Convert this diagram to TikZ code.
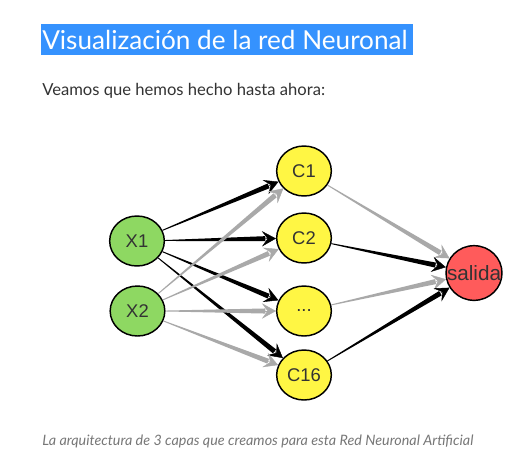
\documentclass[tikz,border=0pt]{standalone}
\usepackage{fontspec}
\setmainfont{Liberation Sans}
\newfontfamily\pagefont{Lato}
\usetikzlibrary{shapes.geometric,arrows.meta,calc}
\definecolor{hlblue}{HTML}{3592FE}
\definecolor{txtdark}{HTML}{333333}
\definecolor{captxt}{HTML}{777777}
\definecolor{ingreen}{HTML}{8ED862}
\definecolor{hidyellow}{HTML}{FFF644}
\definecolor{outred}{HTML}{FF5B5B}
\definecolor{arrgray}{HTML}{A9A9A9}
\tikzset{
  neuron/.style={ellipse, draw=black, line width=1.1pt, minimum width=41pt, minimum height=37.5pt, inner sep=0pt, text=txtdark, font=\fontsize{13.8}{15}\selectfont},
  innode/.style={neuron, fill=ingreen},
  hidnode/.style={neuron, fill=hidyellow},
  outnode/.style={neuron, fill=outred, minimum width=42pt, minimum height=41pt, font=\fontsize{15.5}{17}\selectfont},
}
\newcommand\tarr[3]{%
  \path (#1) -- (#2) coordinate[pos=0] (ts) coordinate[pos=1] (te);
  \coordinate (tb) at ($(te)!8pt!(ts)$);
  \fill[#3] ($(ts)!0.35pt!90:(te)$) -- ($(tb)!1.9pt!90:(te)$) -- ($(tb)!1.9pt!-90:(te)$) -- ($(ts)!0.35pt!-90:(te)$) -- cycle;
  \draw[#3, line width=0.3pt, -{Stealth[length=10.5pt,width=11.5pt,inset=4.2pt]}] (tb) -- (te);
}
\begin{document}
\begin{tikzpicture}[x=0.75pt,y=-0.75pt]
\useasboundingbox (0,0) rectangle (531,465);
\fill[white] (0,0) rectangle (531,465);
% title
\fill[hlblue] (41,24) rectangle (413,55);
\node[anchor=base west, inner sep=0pt, text=white, font=\pagefont\fontsize{19.6}{22}\selectfont] (title) at (42,49) {Visualización de la red Neuronal};
\node[anchor=base west, inner sep=0pt, text=txtdark, font=\pagefont\fontsize{12.45}{14}\selectfont] (sub) at (42,95) {Veamos que hemos hecho hasta ahora:};
\node[anchor=base west, inner sep=0pt, text=captxt, font=\pagefont\itshape\fontsize{10.75}{12}\selectfont] (cap) at (42,445) {La arquitectura de 3 capas que creamos para esta Red Neuronal Artificial};
% nodes
\node[innode] (x1) at (137,241) {X1};
\node[innode] (x2) at (137.5,311) {X2};
\node[hidnode] (c1) at (304,171) {C1};
\node[hidnode] (c2) at (304,238) {C2};
\node[hidnode] (c3) at (304,311) {...};
\node[hidnode] (c16) at (304,375) {C16};
\node[outnode] (out) at (474,273) {\makebox[0pt]{salida}};
% arrows
\tarr{x1}{c1}{black}
\tarr{x1}{c2}{black}
\tarr{x1}{c3}{black}
\tarr{x1}{c16}{black}
\tarr{x2}{c1}{arrgray}
\tarr{x2}{c2}{arrgray}
\tarr{x2}{c3}{arrgray}
\tarr{x2}{c16}{arrgray}
\tarr{c1}{out}{arrgray}
\tarr{c2}{out}{black}
\tarr{c3}{out}{arrgray}
\tarr{c16}{out}{black}
\end{tikzpicture}
\end{document}
